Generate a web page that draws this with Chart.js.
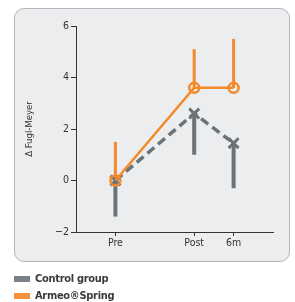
<!DOCTYPE html>
<html>
<head>
<meta charset="utf-8">
<script src="https://cdn.jsdelivr.net/npm/chart.js@4"></script>
<style>
  html, body { margin: 0; padding: 0; background: #fff; }
  #wrap { position: relative; width: 295px; height: 302px; }
  #panel {
    position: absolute; left: 14px; top: 8px; width: 274px; height: 252px;
    background: #ecedef; border: 1px solid #b4b6b9; border-radius: 10px;
  }
  #myChart { position: absolute; left: 0; top: 0; }
  .legend {
    position: absolute; left: 14px; font: bold 11px "Liberation Sans Narrow", "DejaVu Sans Condensed", sans-serif;
    color: #3a3a3a; display: flex; align-items: center; letter-spacing: -0.3px;
  }
  .legend span.sw { display: inline-block; width: 16px; height: 6px; margin-right: 5px; }
</style>
</head>
<body>
<div id="wrap">
  <div id="panel"></div>
  <canvas id="myChart" width="295" height="302"></canvas>
  <div class="legend" style="top:272px"><span class="sw" style="background:#7b8086"></span>Control group</div>
  <div class="legend" style="top:289px"><span class="sw" style="background:#f7923a"></span>Armeo®Spring</div>
</div>
<script>
const timepoints = ["Pre", "Post", "6m"];
const timeValues = [0, 4, 6];
const controlMean = [0, 2.6, 1.45];
const controlLower = [-1.4, 1.0, -0.3];
const armeoMean = [0, 3.6, 3.6];
const armeoUpper = [1.5, 5.1, 5.5];

const grey = "#6b7278";
const orange = "#f5892a";
const font = { family: "'Liberation Sans Narrow', 'DejaVu Sans Condensed', sans-serif", size: 10.5 };

// one-sided error bars, drawn under the markers
const errorBars = {
  id: "errorBars",
  beforeDatasetsDraw(chart) {
    const ctx = chart.ctx;
    const x = chart.scales.x;
    const y = chart.scales.y;
    ctx.save();
    ctx.lineCap = "butt";
    ctx.strokeStyle = grey;
    ctx.lineWidth = 4;
    timeValues.forEach((t, i) => {
      ctx.beginPath();
      ctx.moveTo(x.getPixelForValue(t), y.getPixelForValue(controlMean[i]));
      ctx.lineTo(x.getPixelForValue(t), y.getPixelForValue(controlLower[i]));
      ctx.stroke();
    });
    ctx.strokeStyle = orange;
    ctx.lineWidth = 3;
    timeValues.forEach((t, i) => {
      ctx.beginPath();
      ctx.moveTo(x.getPixelForValue(t), y.getPixelForValue(armeoMean[i]));
      ctx.lineTo(x.getPixelForValue(t), y.getPixelForValue(armeoUpper[i]));
      ctx.stroke();
    });
    ctx.restore();
  },
};

const data = {
  datasets: [
    {
      label: "Control group",
      data: timeValues.map((t, i) => ({ x: t, y: controlMean[i] })),
      borderColor: grey,
      backgroundColor: grey,
      borderWidth: 3.5,
      borderDash: [9, 5],
      pointStyle: "crossRot",
      pointRadius: 7,
      pointBorderWidth: 3,
      order: 2,
    },
    {
      label: "Armeo®Spring",
      data: timeValues.map((t, i) => ({ x: t, y: armeoMean[i] })),
      borderColor: orange,
      backgroundColor: "rgba(0,0,0,0)",
      borderWidth: 2.5,
      pointStyle: "circle",
      pointRadius: 5,
      pointBorderWidth: 2.5,
      order: 1,
    },
  ],
};

const config = {
  type: "line",
  data: data,
  plugins: [errorBars],
  options: {
    responsive: false,
    animation: false,
    layout: { padding: { left: 14, right: 22, top: 26, bottom: 40 } },
    plugins: { legend: { display: false }, tooltip: { enabled: false } },
    scales: {
      x: {
        type: "linear",
        min: -2,
        max: 8,
        afterFit: (s) => { s.height = 30; },
        afterBuildTicks: (s) => { s.ticks = timeValues.map((v) => ({ value: v })); },
        ticks: {
          font: font,
          color: "#333",
          padding: 1,
          callback: (v) => timepoints[timeValues.indexOf(v)],
        },
        grid: { drawOnChartArea: false, drawTicks: true, tickLength: 4, color: "#333" },
        border: { display: true, color: "#333", width: 1 },
      },
      y: {
        min: -2,
        max: 6,
        afterFit: (s) => { s.width = 62; },
        ticks: {
          stepSize: 2,
          font: font,
          color: "#333",
          padding: 2,
          callback: (v) => String(v).replace("-", "\u2212"),
        },
        title: {
          display: true,
          text: "\u0394 Fugl-Meyer",
          font: { family: font.family, size: 9.5 },
          color: "#333",
          padding: { top: 10, bottom: 0 },
        },
        grid: { drawOnChartArea: false, drawTicks: true, tickLength: 5, color: "#333" },
        border: { display: true, color: "#333", width: 1 },
      },
    },
  },
};

const lineChart = new Chart(document.getElementById("myChart"), config);
</script>
</body>
</html>
